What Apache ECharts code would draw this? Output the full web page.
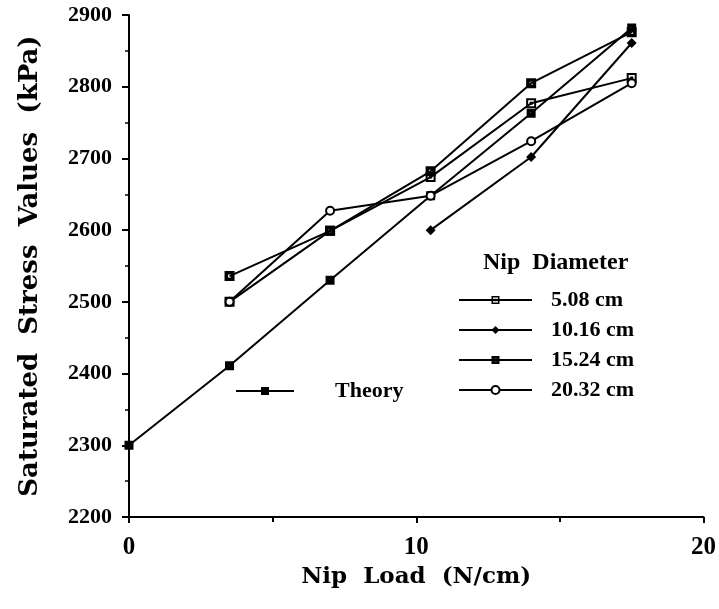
<!DOCTYPE html>
<html><head><meta charset="utf-8">
<script src="https://cdn.jsdelivr.net/npm/echarts@6/dist/echarts.min.js"></script>
<style>html,body{margin:0;padding:0;background:#fff}#c{width:719px;height:609px}</style>
</head><body><div id="c"></div>
<script>
const nipLoad = [0, 3.5, 7, 10.5, 14, 17.5];
const theory = [2300, 2411, 2530, 2648, 2763, 2882];
const d508 = [null, 2500, 2599, 2674, 2777, 2812];
const d1016 = [null, null, null, 2600, 2702, 2861];
const d1524 = [null, 2536, 2599, 2682, 2805, 2876];
const d2032 = [null, 2500, 2627, 2648, 2724, 2805];
const seriesNames = ['5.08 cm', '10.16 cm', '15.24 cm', '20.32 cm'];
const xTicks = [0, 10, 20];
const yTicks = [2200, 2300, 2400, 2500, 2600, 2700, 2800, 2900];

const FONT = '"Liberation Serif", "DejaVu Serif", serif';
const WIDE = '"DejaVu Serif", "Liberation Serif", serif';
const sqDot = 'path://M0,0H10V10H0Z M2,2V8H8V2Z M3.5,3.5H6.5V6.5H3.5Z';
const sqHole = 'path://M0,0H10V10H0Z M3.5,3.5V6.5H6.5V3.5Z';
const sqFill = 'path://M0,0H10V10H0Z M4,4V5H5V4Z';

function pairs(arr) {
  const out = [];
  arr.forEach((v, i) => { if (v !== null) out.push([nipLoad[i], v]); });
  return out;
}
function mk(name, data, symbol, size, fill) {
  return {
    name, type: 'line', data: pairs(data), symbol, symbolSize: size,
    lineStyle: { color: '#000', width: 2 },
    itemStyle: { color: fill, borderColor: '#000', borderWidth: fill === '#fff' ? 2 : 0 },
    emphasis: { disabled: true }, animation: false, z: 3
  };
}
const txt = (size, fam) => ({ fontFamily: fam || FONT, fontWeight: 'bold', fontSize: size, color: '#000' });
const chart = echarts.init(document.getElementById('c'), null, { renderer: 'canvas' });
chart.setOption({
  backgroundColor: '#fff',
  animation: false,
  grid: { left: 129, right: 14, top: 15, bottom: 92, containLabel: false },
  title: {
    text: 'Nip  Diameter', left: 478, top: 246,
    textStyle: txt(24)
  },
  legend: [
    {
      data: ['Theory'], left: 230, top: 375, itemWidth: 58, itemHeight: 10,
      textStyle: Object.assign(txt(22), { padding: [0, 0, 0, 36] })
    },
    {
      data: seriesNames, orient: 'vertical', left: 453, top: 284, itemWidth: 73, itemHeight: 10, itemGap: 8,
      textStyle: Object.assign(txt(22), { padding: [0, 0, 0, 14] })
    }
  ],
  xAxis: {
    type: 'value', min: 0, max: 20, interval: 10,
    name: 'Nip  Load  (N/cm)', nameLocation: 'middle', nameGap: 49,
    nameTextStyle: txt(23, WIDE),
    axisLine: { lineStyle: { color: '#000', width: 2 } },
    axisTick: { show: true, length: 6, lineStyle: { color: '#000', width: 2 } },
    minorTick: { show: true, splitNumber: 2, length: 5, lineStyle: { color: '#000', width: 2 } },
    splitLine: { show: false },
    axisLabel: Object.assign(txt(25), { margin: 18,
      formatter: v => xTicks.includes(v) ? String(v) : '' })
  },
  yAxis: {
    type: 'value', min: 2200, max: 2900, interval: 100,
    name: 'Saturated  Stress  Values  (kPa)', nameLocation: 'middle', nameGap: 86, nameRotate: 90,
    nameTextStyle: txt(26, WIDE),
    axisLine: { show: true, lineStyle: { color: '#000', width: 2 } },
    axisTick: { show: true, length: 7, lineStyle: { color: '#000', width: 2 } },
    minorTick: { show: true, splitNumber: 2, length: 4, lineStyle: { color: '#000', width: 1.5 } },
    splitLine: { show: false },
    axisLabel: Object.assign(txt(22), { margin: 17,
      formatter: v => yTicks.includes(v) ? String(v) : '' })
  },
  series: [
    mk('Theory', theory, sqFill, 9, '#000'),
    mk(seriesNames[0], d508, sqDot, 10, '#000'),
    mk(seriesNames[1], d1016, 'diamond', 10, '#000'),
    mk(seriesNames[2], d1524, sqHole, 10, '#000'),
    mk(seriesNames[3], d2032, 'circle', 8, '#fff')
  ]
});
</script></body></html>
